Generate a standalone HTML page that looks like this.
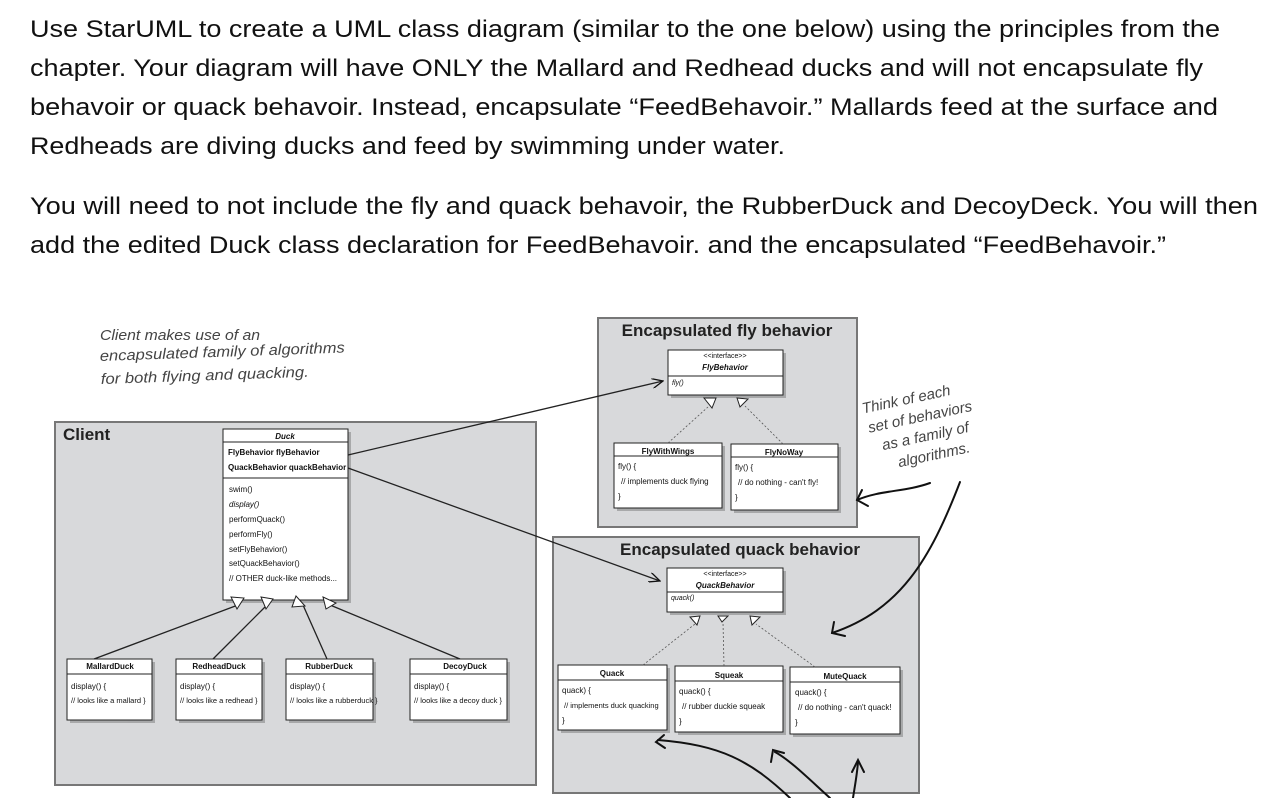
<!DOCTYPE html>
<html><head><meta charset="utf-8"><style>
html,body{margin:0;padding:0;background:#fff;}
svg{display:block;}
.p{font-family:"Liberation Sans",sans-serif;font-size:24px;fill:#111;}
.h{font-family:"Liberation Sans",sans-serif;font-style:italic;fill:#444;font-size:15px;}
.t{font-family:"Liberation Sans",sans-serif;font-size:8px;fill:#111;}
.b{font-weight:bold;}
.hd{font-family:"Liberation Sans",sans-serif;font-weight:bold;font-size:17px;fill:#222;}
</style></head><body>
<svg width="1273" height="798" viewBox="0 0 1273 798" xmlns="http://www.w3.org/2000/svg">
<defs>
<marker id="ar" markerWidth="12" markerHeight="10" refX="11" refY="5" orient="auto" markerUnits="userSpaceOnUse">
<path d="M0,0 L11,5 L0,10" fill="none" stroke="#111" stroke-width="1.3"/></marker>
</defs>
<g class="p">
<text x="30" y="37" textLength="1190" lengthAdjust="spacingAndGlyphs">Use StarUML to create a UML class diagram (similar to the one below) using the principles from the</text>
<text x="30" y="76" textLength="1173" lengthAdjust="spacingAndGlyphs">chapter. Your diagram will have ONLY the Mallard and Redhead ducks and will not encapsulate fly</text>
<text x="30" y="115" textLength="1188" lengthAdjust="spacingAndGlyphs">behavoir or quack behavoir. Instead, encapsulate “FeedBehavoir.” Mallards feed at the surface and</text>
<text x="30" y="154" textLength="755" lengthAdjust="spacingAndGlyphs">Redheads are diving ducks and feed by swimming under water.</text>
<text x="30" y="214" textLength="1228" lengthAdjust="spacingAndGlyphs">You will need to not include the fly and quack behavoir, the RubberDuck and DecoyDeck. You will then</text>
<text x="30" y="253" textLength="1136" lengthAdjust="spacingAndGlyphs">add the edited Duck class declaration for FeedBehavoir. and the encapsulated “FeedBehavoir.”</text>
</g>

<g class="h">
<text x="100" y="340" textLength="160" lengthAdjust="spacingAndGlyphs">Client makes use of an</text>
<text x="100" y="361" transform="rotate(-2 100 361)" textLength="245" lengthAdjust="spacingAndGlyphs">encapsulated family of algorithms</text>
<text x="101" y="384" transform="rotate(-2 101 384)" textLength="208" lengthAdjust="spacingAndGlyphs">for both flying and quacking.</text>
</g>
<g class="h" transform="rotate(-12 930 430)">
<text x="868" y="400">Think of each</text>
<text x="870" y="420">set of behaviors</text>
<text x="880" y="440">as a family of</text>
<text x="892" y="460">algorithms.</text>
</g>

<rect x="55" y="422" width="481" height="363" fill="#d8d9db" stroke="#777" stroke-width="2"/>
<text x="63" y="440" class="hd">Client</text>
<rect x="598" y="318" width="259" height="209" fill="#d8d9db" stroke="#777" stroke-width="2"/>
<text x="727" y="336" class="hd" text-anchor="middle">Encapsulated fly behavior</text>
<rect x="553" y="537" width="366" height="256" fill="#d8d9db" stroke="#777" stroke-width="2"/>
<text x="740" y="555" class="hd" text-anchor="middle">Encapsulated quack behavior</text>

<g fill="#888" opacity="0.6">
<rect x="226" y="432" width="125" height="171"/>
<rect x="671" y="353" width="115" height="45"/>
<rect x="617" y="446" width="108" height="65"/>
<rect x="734" y="447" width="107" height="66"/>
<rect x="670" y="571" width="116" height="44"/>
<rect x="561" y="668" width="109" height="65"/>
<rect x="678" y="669" width="108" height="66"/>
<rect x="793" y="670" width="110" height="67"/>
<rect x="70" y="662" width="85" height="61"/>
<rect x="179" y="662" width="86" height="61"/>
<rect x="289" y="662" width="87" height="61"/>
<rect x="413" y="662" width="97" height="61"/>
</g>

<g stroke="#222" stroke-width="1" fill="#fff">
<rect x="223" y="429" width="125" height="171"/>
<line x1="223" y1="442" x2="348" y2="442"/>
<line x1="223" y1="478" x2="348" y2="478"/>
</g>
<g class="t">
<text x="285" y="439" text-anchor="middle" class="b" font-style="italic">Duck</text>
<text x="228" y="455" class="b">FlyBehavior flyBehavior</text>
<text x="228" y="470" class="b">QuackBehavior quackBehavior</text>
<text x="229" y="492">swim()</text>
<text x="229" y="507" font-style="italic">display()</text>
<text x="229" y="522">performQuack()</text>
<text x="229" y="537">performFly()</text>
<text x="229" y="552">setFlyBehavior()</text>
<text x="229" y="566">setQuackBehavior()</text>
<text x="229" y="581">// OTHER duck-like methods...</text>
</g>

<g stroke="#222" stroke-width="1" fill="#fff">
<rect x="668" y="350" width="115" height="45"/>
<line x1="668" y1="376" x2="783" y2="376"/>
<rect x="614" y="443" width="108" height="65"/><line x1="614" y1="456" x2="722" y2="456"/>
<rect x="731" y="444" width="107" height="66"/><line x1="731" y1="457" x2="838" y2="457"/>
<rect x="667" y="568" width="116" height="44"/><line x1="667" y1="592" x2="783" y2="592"/>
<rect x="558" y="665" width="109" height="65"/><line x1="558" y1="680" x2="667" y2="680"/>
<rect x="675" y="666" width="108" height="66"/><line x1="675" y1="681" x2="783" y2="681"/>
<rect x="790" y="667" width="110" height="67"/><line x1="790" y1="682" x2="900" y2="682"/>
<rect x="67" y="659" width="85" height="61"/><line x1="67" y1="674" x2="152" y2="674"/>
<rect x="176" y="659" width="86" height="61"/><line x1="176" y1="674" x2="262" y2="674"/>
<rect x="286" y="659" width="87" height="61"/><line x1="286" y1="674" x2="373" y2="674"/>
<rect x="410" y="659" width="97" height="61"/><line x1="410" y1="674" x2="507" y2="674"/>
</g>
<g class="t">
<text x="725" y="358" text-anchor="middle" font-size="7">&lt;&lt;interface&gt;&gt;</text>
<text x="725" y="370" text-anchor="middle" class="b" font-style="italic">FlyBehavior</text>
<text x="672" y="385" font-style="italic" font-size="7">fly()</text>
<text x="668" y="454" text-anchor="middle" class="b">FlyWithWings</text>
<text x="618" y="469">fly() {</text>
<text x="621" y="484">// implements duck flying</text>
<text x="618" y="499">}</text>
<text x="784" y="455" text-anchor="middle" class="b">FlyNoWay</text>
<text x="735" y="470">fly() {</text>
<text x="738" y="485">// do nothing - can't fly!</text>
<text x="735" y="500">}</text>
<text x="725" y="576" text-anchor="middle" font-size="7">&lt;&lt;interface&gt;&gt;</text>
<text x="725" y="588" text-anchor="middle" class="b" font-style="italic">QuackBehavior</text>
<text x="671" y="600" font-style="italic" font-size="7">quack()</text>
<text x="612" y="676" text-anchor="middle" class="b">Quack</text>
<text x="562" y="693">quack) {</text>
<text x="564" y="708" font-size="7.5">// implements duck quacking</text>
<text x="562" y="723">}</text>
<text x="729" y="678" text-anchor="middle" class="b">Squeak</text>
<text x="679" y="694">quack() {</text>
<text x="682" y="709">// rubber duckie squeak</text>
<text x="679" y="724">}</text>
<text x="845" y="679" text-anchor="middle" class="b">MuteQuack</text>
<text x="795" y="695">quack() {</text>
<text x="798" y="710">// do nothing - can't quack!</text>
<text x="795" y="725">}</text>
<text x="110" y="669" text-anchor="middle" class="b">MallardDuck</text>
<text x="71" y="689">display() {</text>
<text x="71" y="703" font-size="7.5">// looks like a mallard }</text>
<text x="219" y="669" text-anchor="middle" class="b">RedheadDuck</text>
<text x="180" y="689">display() {</text>
<text x="180" y="703" font-size="7.5">// looks like a redhead }</text>
<text x="329" y="669" text-anchor="middle" class="b">RubberDuck</text>
<text x="290" y="689">display() {</text>
<text x="290" y="703" font-size="7.5">// looks like a rubberduck }</text>
<text x="465" y="669" text-anchor="middle" class="b">DecoyDuck</text>
<text x="414" y="689">display() {</text>
<text x="414" y="703" font-size="7.5">// looks like a decoy duck }</text>
</g>

<g stroke="#222" stroke-width="1.3" fill="none">
<line x1="348" y1="455" x2="663" y2="381" marker-end="url(#ar)"/>
<line x1="348" y1="468" x2="660" y2="581" marker-end="url(#ar)"/>
<line x1="94" y1="659" x2="238" y2="605"/>
<line x1="213" y1="659" x2="267" y2="605"/>
<line x1="327" y1="659" x2="303" y2="605"/>
<line x1="460" y1="659" x2="330" y2="605"/>
</g>
<g stroke="#222" stroke-width="1" fill="#fff">
<path d="M231,597 L244,598 L237,609 Z"/>
<path d="M261,597 L273,599 L266,609 Z"/>
<path d="M296,596 L305,606 L292,607 Z"/>
<path d="M323,597 L336,603 L326,609 Z"/>
<path d="M704,398 L716,398 L712,408 Z"/>
<path d="M737,398 L748,399 L740,407 Z"/>
<path d="M718,616 L728,616 L722,622 Z"/>
<path d="M690,617 L700,616 L697,625 Z"/>
<path d="M750,616 L760,617 L752,625 Z"/>
</g>
<g stroke="#555" stroke-width="0.8" stroke-dasharray="2,2" fill="none">
<line x1="668" y1="443" x2="708" y2="407"/>
<line x1="783" y1="444" x2="745" y2="406"/>
<line x1="643" y1="665" x2="695" y2="624"/>
<line x1="724" y1="666" x2="723" y2="622"/>
<line x1="815" y1="667" x2="756" y2="624"/>
</g>

<g stroke="#111" stroke-width="2" fill="none" stroke-linecap="round">
<path d="M930,483 C905,492 880,490 857,500"/>
<path d="M862,490 L857,500 L868,506"/>
<path d="M960,482 C930,560 900,610 832,633"/>
<path d="M834,622 L832,633 L845,636"/>
<path d="M790,798 C750,760 720,745 658,740"/>
<path d="M664,735 L656,742 L665,748"/>
<path d="M830,798 C810,780 790,760 775,752"/>
<path d="M771,762 L773,750 L784,753"/>
<path d="M853,798 C855,785 857,775 858,762"/>
<path d="M852,772 L858,760 L864,772"/>
</g>
</svg>
</body></html>
